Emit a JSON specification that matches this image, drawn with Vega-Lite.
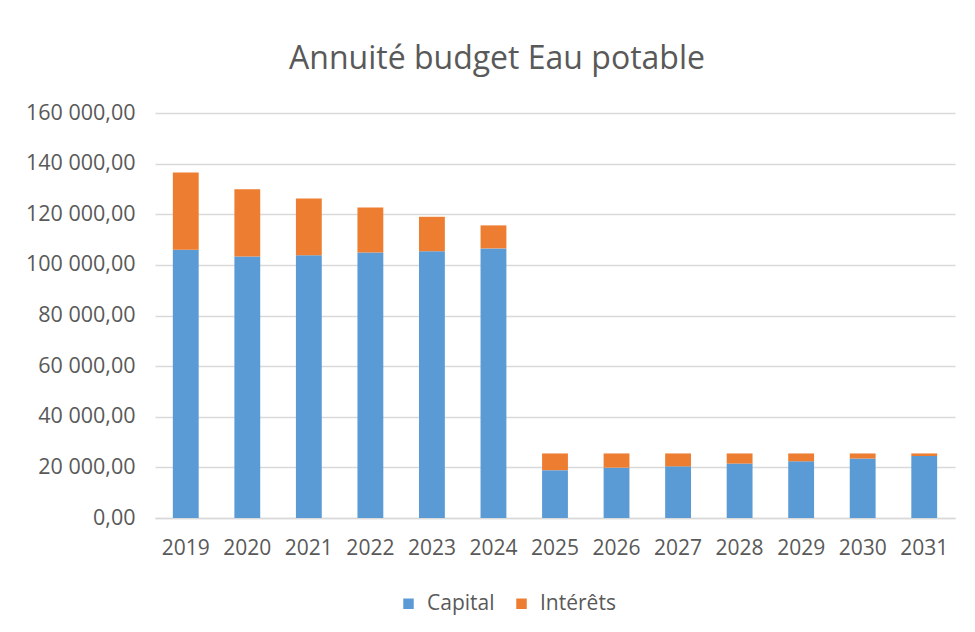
{
  "$schema": "https://vega.github.io/schema/vega-lite/v6.json",
  "width": 800,
  "height": 405,
  "autosize": {"type": "none"},
  "padding": {"left": 155, "top": 113, "right": 20, "bottom": 114},
  "background": "white",
  "config": {
    "locale": {"number": {"decimal": ",", "thousands": " ", "grouping": [3], "currency": ["", " €"]}},
    "font": "Open Sans",
    "view": {"stroke": null}
  },
  "title": {
    "text": "Annuité budget Eau potable",
    "font": "Open Sans",
    "fontSize": 32,
    "fontWeight": "normal",
    "color": "#595959",
    "anchor": "middle",
    "dx": -58,
    "offset": 26
  },
  "data": {
    "values": [
      {"annee": "2019", "type": "Capital", "montant": 106000},
      {"annee": "2019", "type": "Intérêts", "montant": 30500},
      {"annee": "2020", "type": "Capital", "montant": 103300},
      {"annee": "2020", "type": "Intérêts", "montant": 26600},
      {"annee": "2021", "type": "Capital", "montant": 103800},
      {"annee": "2021", "type": "Intérêts", "montant": 22400},
      {"annee": "2022", "type": "Capital", "montant": 104900},
      {"annee": "2022", "type": "Intérêts", "montant": 17800},
      {"annee": "2023", "type": "Capital", "montant": 105400},
      {"annee": "2023", "type": "Intérêts", "montant": 13600},
      {"annee": "2024", "type": "Capital", "montant": 106500},
      {"annee": "2024", "type": "Intérêts", "montant": 9100},
      {"annee": "2025", "type": "Capital", "montant": 18900},
      {"annee": "2025", "type": "Intérêts", "montant": 6600},
      {"annee": "2026", "type": "Capital", "montant": 19900},
      {"annee": "2026", "type": "Intérêts", "montant": 5600},
      {"annee": "2027", "type": "Capital", "montant": 20400},
      {"annee": "2027", "type": "Intérêts", "montant": 5100},
      {"annee": "2028", "type": "Capital", "montant": 21500},
      {"annee": "2028", "type": "Intérêts", "montant": 4000},
      {"annee": "2029", "type": "Capital", "montant": 22400},
      {"annee": "2029", "type": "Intérêts", "montant": 3100},
      {"annee": "2030", "type": "Capital", "montant": 23500},
      {"annee": "2030", "type": "Intérêts", "montant": 2000},
      {"annee": "2031", "type": "Capital", "montant": 24500},
      {"annee": "2031", "type": "Intérêts", "montant": 1000}
    ]
  },
  "mark": {"type": "bar"},
  "encoding": {
    "x": {
      "field": "annee",
      "type": "nominal",
      "scale": {"paddingInner": 0.58, "paddingOuter": 0.29},
      "axis": {
        "title": null,
        "labelAngle": 0,
        "labelFontSize": 21,
        "labelColor": "#595959",
        "labelPadding": 19,
        "ticks": false,
        "domainColor": "#d9d9d9",
        "domainWidth": 1.5
      }
    },
    "y": {
      "field": "montant",
      "type": "quantitative",
      "aggregate": "sum",
      "stack": "zero",
      "scale": {"domain": [0, 160000], "nice": false},
      "axis": {
        "title": null,
        "values": [0, 20000, 40000, 60000, 80000, 100000, 120000, 140000, 160000],
        "format": ",.2f",
        "labelFontSize": 21.5,
        "labelColor": "#595959",
        "labelPadding": 20,
        "ticks": false,
        "domain": false,
        "gridColor": "#d9d9d9",
        "gridWidth": 1.5
      }
    },
    "color": {
      "field": "type",
      "type": "nominal",
      "scale": {"domain": ["Capital", "Intérêts"], "range": ["#5B9BD5", "#ED7D31"]},
      "legend": {
        "title": null,
        "orient": "none",
        "direction": "horizontal",
        "legendX": 243,
        "legendY": 480,
        "symbolType": "square",
        "symbolSize": 110,
        "symbolStrokeWidth": 0,
        "labelFontSize": 21,
        "labelColor": "#595959",
        "columnPadding": 16,
        "labelOffset": 8
      }
    },
    "order": {"field": "type", "sort": "ascending"}
  }
}
